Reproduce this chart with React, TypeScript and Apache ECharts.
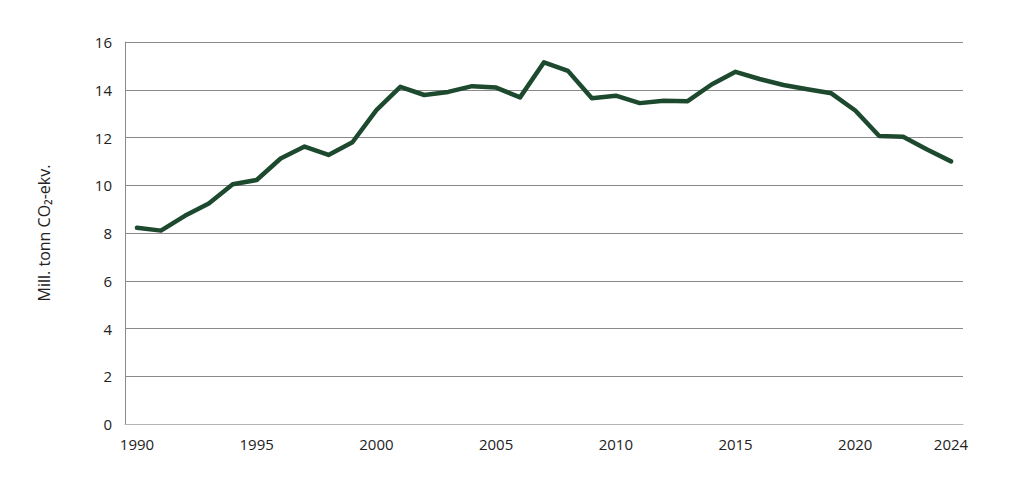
import React, { useEffect, useRef } from "react";
import * as echarts from "echarts";

const years: string[] = [
  "1990","1991","1992","1993","1994","1995","1996","1997","1998","1999",
  "2000","2001","2002","2003","2004","2005","2006","2007","2008","2009",
  "2010","2011","2012","2013","2014","2015","2016","2017","2018","2019",
  "2020","2021","2022","2023","2024",
];
const emissions: number[] = [
  8.22, 8.1, 8.72, 9.24, 10.04, 10.22, 11.12, 11.62, 11.27, 11.8,
  13.15, 14.12, 13.78, 13.91, 14.15, 14.09, 13.68, 15.15, 14.79, 13.64,
  13.75, 13.44, 13.54, 13.52, 14.22, 14.75, 14.45, 14.2, 14.02, 13.85,
  13.13, 12.06, 12.03, 11.5, 11.0,
];
const yTicks = { min: 0, max: 16, interval: 2 };
const yAxisName = "Mill. tonn CO₂-ekv.";

export default function App() {
  const ref = useRef<HTMLDivElement>(null);
  useEffect(() => {
    if (!ref.current) return;
    const chart = echarts.init(ref.current, undefined, { renderer: "svg" });
    const font = "'Open Sans', 'Noto Sans', sans-serif";
    chart.setOption({
      animation: false,
      grid: { left: 117, right: 63, top: 34, bottom: 65, containLabel: false },
      xAxis: {
        type: "category",
        data: years,
        boundaryGap: true,
        axisLine: { show: true, lineStyle: { color: "#b4b4b4", width: 1 } },
        axisTick: { show: false },
        axisLabel: {
          color: "#222",
          fontFamily: font,
          fontSize: 15,
          margin: 12,
          interval: (i: number) => i % 5 === 0 || i === years.length - 1,
        },
        splitLine: { show: false },
      },
      yAxis: {
        type: "value",
        min: yTicks.min,
        max: yTicks.max,
        interval: yTicks.interval,
        name: yAxisName,
        nameLocation: "middle",
        nameRotate: 90,
        nameGap: 73,
        nameTextStyle: { color: "#222", fontFamily: font, fontSize: 16 },
        axisLine: { show: true, lineStyle: { color: "#8a8a8a", width: 1 } },
        axisTick: { show: false },
        axisLabel: { color: "#222", fontFamily: font, fontSize: 15, margin: 13 },
        splitLine: { show: true, lineStyle: { color: "#8a8a8a", width: 1 } },
      },
      series: [
        {
          type: "line",
          data: emissions,
          symbol: "none",
          lineStyle: { color: "#1d4a2f", width: 4.5, join: "round", cap: "round" },
          z: 5,
        },
      ],
    });
    return () => chart.dispose();
  }, []);
  return <div ref={ref} style={{ width: 1018, height: 481 }} />;
}
